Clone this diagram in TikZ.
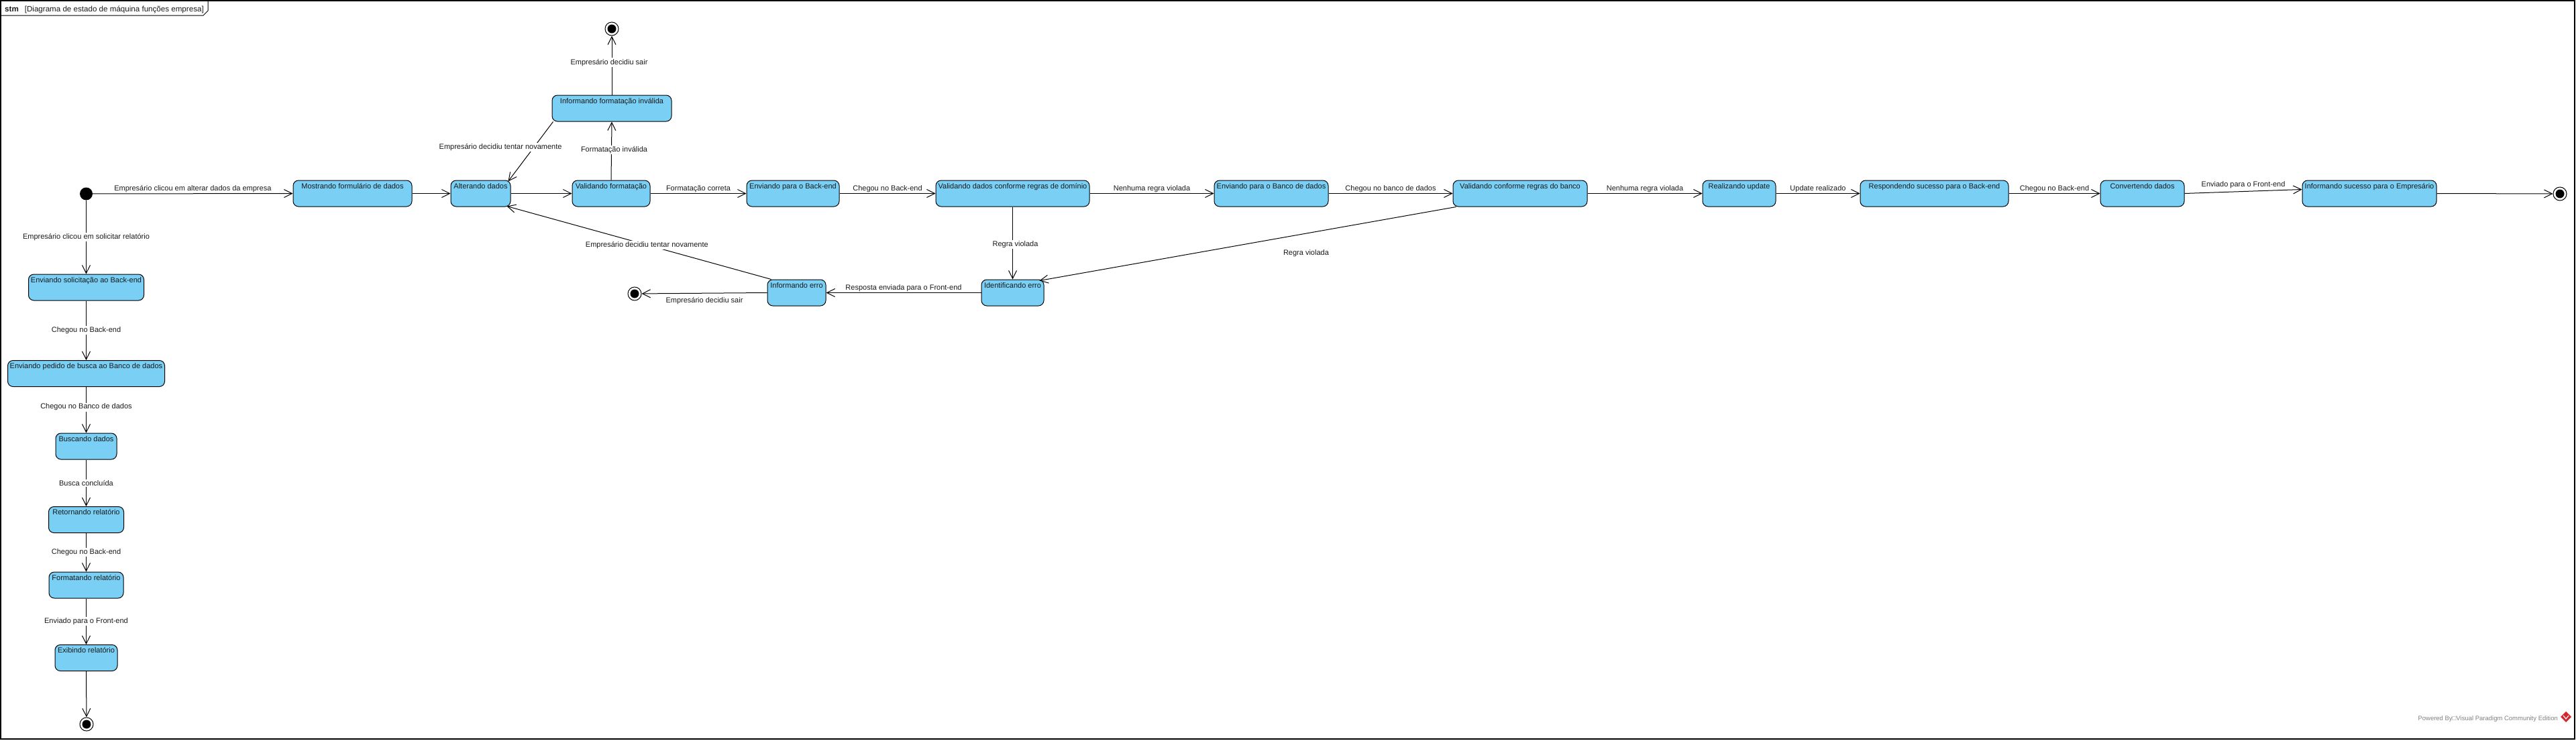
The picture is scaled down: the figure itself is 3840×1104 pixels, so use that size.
\documentclass[tikz,border=0pt]{standalone}
\usepackage{fontspec}
\setmainfont{Liberation Sans}
\usetikzlibrary{arrows.meta}
\definecolor{stfill}{RGB}{122,207,245}
\definecolor{txt}{RGB}{25,25,25}
\definecolor{vpred}{RGB}{210,40,45}
\begin{document}
\begin{tikzpicture}[x=1pt,y=-1pt,
  font=\fontsize{11}{13}\selectfont,
  st/.style={draw=black, line width=1pt, fill=stfill, rounded corners=8pt, inner xsep=2pt, inner ysep=4pt, text height=8pt, text depth=23pt, minimum height=39pt, text=txt},
  tr/.style={draw=black, line width=1pt, -{Straight Barb[length=12pt,width=12pt,line width=1pt]}},
  lbl/.style={text=txt, inner sep=1.5pt},
  onl/.style={lbl, fill=white},
  initst/.style={circle, fill=black, minimum size=19pt, inner sep=0pt},
  finst/.style={circle, draw=black, line width=1pt, fill=white, minimum size=20pt, inner sep=0pt, path picture={\fill[black] (path picture bounding box.center) circle[radius=6.5pt];}},
]
\useasboundingbox (0,0) rectangle (3840,1104);
% frame
\draw[line width=1.2pt] (1,1) rectangle (3838,1102);
\draw[line width=1pt] (1,23) -- (303,23) -- (310,16) -- (310,1);
\node[anchor=base west, inner sep=0pt, text=txt, font=\fontsize{11.6}{13}\selectfont] (title) at (7,17) {\textbf{stm}\hspace{9pt}[Diagrama de estado de máquina funções empresa]};

% pseudo states
\node[initst] (init) at (128.5,289) {};
\node[finst] (ftop) at (912,43) {};
\node[finst] (fleft) at (946,438) {};
\node[finst] (fright) at (3816,289) {};
\node[finst] (fbot) at (129,1080) {};

% top row
\node[st, minimum width=177pt] (mostr) at (525.5,288.5) {Mostrando formulário de dados};
\node[st, minimum width=89pt] (alter) at (716.5,288.5) {Alterando dados};
\node[st, minimum width=116pt] (valf) at (911,288.5) {Validando formatação};
\node[st, minimum width=178pt] (infinv) at (912,161.5) {Informando formatação inválida};
\node[st, minimum width=138pt] (envbe) at (1182,288.5) {Enviando para o Back-end};
\node[st, minimum width=229pt] (valdom) at (1509.5,288.5) {Validando dados conforme regras de domínio};
\node[st, minimum width=170pt] (envbd) at (1895,288.5) {Enviando para o Banco de dados};
\node[st, minimum width=200pt] (valbanco) at (2266,288.5) {Validando conforme regras do banco};
\node[st, minimum width=109pt] (realupd) at (2592.5,288.5) {Realizando update};
\node[st, minimum width=221pt] (resp) at (2883.5,288.5) {Respondendo sucesso para o Back-end};
\node[st, minimum width=125pt] (conv) at (3193.5,288.5) {Convertendo dados};
\node[st, minimum width=200pt] (infsuc) at (3532,288.5) {Informando sucesso para o Empresário};
% error row
\node[st, minimum width=87pt] (inferro) at (1187.5,436.5) {Informando erro};
\node[st, minimum width=93pt] (identerro) at (1509.5,436.5) {Identificando erro};
% left column
\node[st, minimum width=172pt] (envsol) at (128.5,428.5) {Enviando solicitação ao Back-end};
\node[st, minimum width=234pt] (envped) at (128.5,557) {Enviando pedido de busca ao Banco de dados};
\node[st, minimum width=91pt] (busc) at (128.5,665.5) {Buscando dados};
\node[st, minimum width=112pt] (retorn) at (128.5,775) {Retornando relatório};
\node[st, minimum width=111pt] (format) at (128.5,872.5) {Formatando relatório};
\node[st, minimum width=93pt] (exib) at (128.5,981) {Exibindo relatório};

% transitions top row
\draw[tr] (init) -- node[lbl, above] {Empresário clicou em alterar dados da empresa} (mostr.west);
\draw[tr] (mostr.east) -- (alter.west);
\draw[tr] (alter.east) -- (valf.west);
\draw[tr] (valf.north) -- node[onl, pos=0.52, xshift=4pt] {Formatação inválida} (infinv.south);
\draw[tr] ([xshift=2pt]infinv.south west) -- node[onl, pos=0.424, xshift=-50pt] {Empresário decidiu tentar novamente} ([xshift=-4pt,yshift=-2pt]alter.north east);
\draw[tr] (infinv.north) -- node[onl, pos=0.55, xshift=-4pt] {Empresário decidiu sair} (ftop);
\draw[tr] (valf.east) -- node[lbl, above] {Formatação correta} (envbe.west);
\draw[tr] (envbe.east) -- node[lbl, above] {Chegou no Back-end} (valdom.west);
\draw[tr] (valdom.east) -- node[lbl, above] {Nenhuma regra violada} (envbd.west);
\draw[tr] (envbd.east) -- node[lbl, above] {Chegou no banco de dados} (valbanco.west);
\draw[tr] (valbanco.east) -- node[lbl, above] {Nenhuma regra violada} (realupd.west);
\draw[tr] (realupd.east) -- node[lbl, above] {Update realizado} (resp.west);
\draw[tr] (resp.east) -- node[lbl, above] {Chegou no Back-end} (conv.west);
\draw[tr] (conv.east) -- node[lbl, above, yshift=3pt] {Enviado para o Front-end} ([yshift=6pt]infsuc.west);
\draw[tr] (infsuc.east) -- (fright);
% error transitions
\draw[tr] (valdom.south) -- node[onl, pos=0.52, xshift=4pt] {Regra violada} (identerro.north);
\draw[tr] ([xshift=5pt]valbanco.south west) -- node[lbl, pos=0.36, yshift=-30pt] {Regra violada} ([xshift=-7pt,yshift=-2pt]identerro.north east);
\draw[tr] (identerro.west) -- node[lbl, above] {Resposta enviada para o Front-end} (inferro.east);
\draw[tr] (inferro.west) -- node[lbl, below, yshift=-4pt] {Empresário decidiu sair} (fleft);
\draw[tr] ([xshift=6pt]inferro.north west) -- node[onl, pos=0.47] {Empresário decidiu tentar novamente} ([xshift=-6pt,yshift=1pt]alter.south east);
% left column transitions
\draw[tr] (init) -- node[onl, pos=0.5] {Empresário clicou em solicitar relatório} (envsol.north);
\draw[tr] (envsol.south) -- node[onl] {Chegou no Back-end} (envped.north);
\draw[tr] (envped.south) -- node[onl, pos=0.44] {Chegou no Banco de dados} (busc.north);
\draw[tr] (busc.south) -- node[onl] {Busca concluída} (retorn.north);
\draw[tr] (retorn.south) -- node[onl] {Chegou no Back-end} (format.north);
\draw[tr] (format.south) -- node[onl] {Enviado para o Front-end} (exib.north);
\draw[tr] (exib.south) -- (fbot);

% watermark
\node[anchor=base east, inner sep=0pt, text=gray, font=\fontsize{9.5}{11}\selectfont] (wm) at (3813,1074) {Powered By□Visual Paradigm Community Edition};
\fill[vpred] (3825,1061) -- (3833,1069) -- (3825,1077) -- (3817,1069) -- cycle;
\draw[white, line width=1.2pt] (3821,1067) -- (3825,1072) -- (3829,1067);
\end{tikzpicture}
\end{document}
